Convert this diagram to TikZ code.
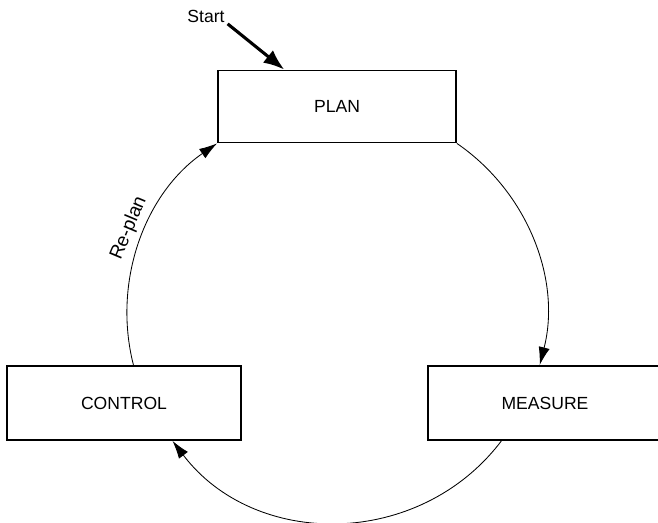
\documentclass[tikz,border=0pt]{standalone}
\usepackage{fontspec}
\setmainfont{Liberation Sans}
\usepackage{tikz}
\usetikzlibrary{arrows.meta}
\usetikzlibrary{positioning}
\tikzstyle{phase} = [rectangle, draw=black, line width=1.3pt, text centered, minimum width=5.85cm, minimum height=1.85cm, font=\fontsize{12.5}{15}\selectfont]
\tikzstyle{cycle_flow} = [line width=0.6pt, -{Latex[length=4.5mm, width=2.8mm]}]
\tikzstyle{start_flow} = [line width=2.2pt, -{Latex[length=5.2mm, width=4mm]}]

\begin{document}
\begin{tikzpicture}

    \useasboundingbox (0, 0) rectangle (16.45, 13.075);

    \node (plan) [phase, minimum width=5.95cm, minimum height=1.8cm] at (8.425, 10.4125) {PLAN};
    \node (control) [phase] at (3.1, 3.0) {CONTROL};
    \node (measure) [phase] at (13.625, 3.0) {MEASURE};
    \node (start) [inner sep=2pt, font=\fontsize{12.5}{15}\selectfont] at (5.15, 12.675) {Start};

    \draw [start_flow] (start.-20) -- (plan.145);

    \draw [cycle_flow] (plan.south east) to [out=-34.5, in=75.6, looseness=0.94] (measure.98);
    \draw [cycle_flow] (measure.-139) to [out=-127.2, in=-52.8, looseness=1.06] (control.-38);
    \draw [cycle_flow] (control.76) to [out=104.3, in=214.5, looseness=0.94]
        node [pos=0.53, sloped, above=1pt, font=\fontsize{13.5}{16}\selectfont] {Re-plan} (plan.south west);

\end{tikzpicture}
\end{document}
